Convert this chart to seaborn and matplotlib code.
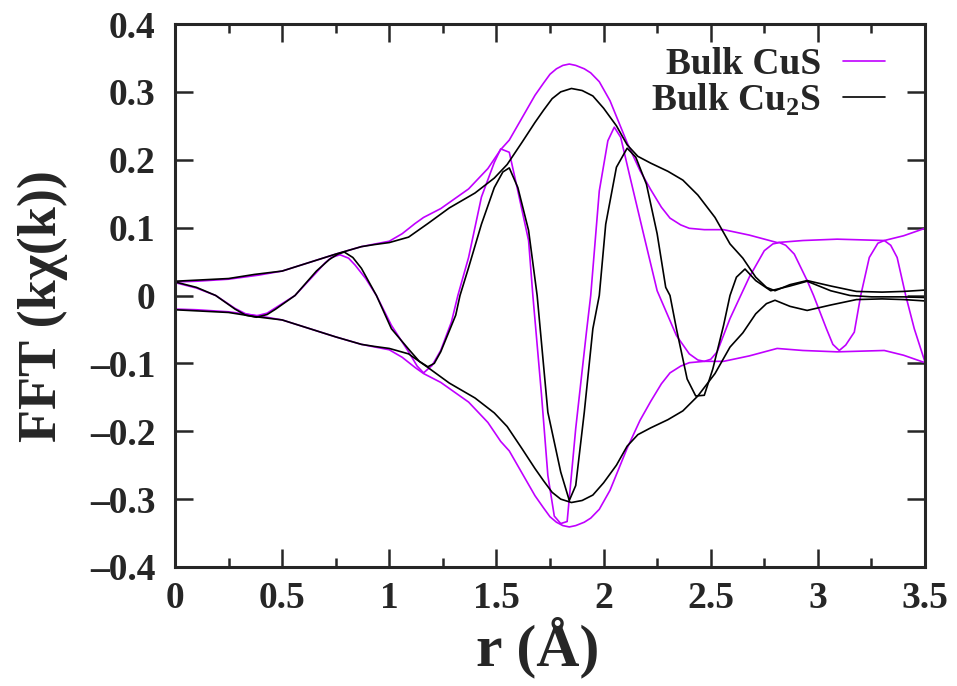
import matplotlib
matplotlib.use("Agg")
import matplotlib.pyplot as plt
import seaborn as sns
import pandas as pd
import numpy as np

# ---- data ----
cus_mag_r = [0, 0.1, 0.25, 0.39, 0.5, 0.62, 0.75, 0.87, 1.0, 1.06, 1.12, 1.16, 1.24, 1.37, 1.46, 1.52,
             1.56, 1.62, 1.68, 1.72, 1.75, 1.78, 1.81, 1.84, 1.87, 1.91, 1.94, 1.98, 2.03, 2.11, 2.17,
             2.22, 2.27, 2.31, 2.36, 2.40, 2.47, 2.56, 2.68, 2.81, 2.93, 3.09, 3.20, 3.31, 3.40, 3.50]
cus_mag = [0.020, 0.021, 0.024, 0.030, 0.036, 0.048, 0.061, 0.072, 0.080, 0.091, 0.106, 0.115, 0.128,
           0.157, 0.187, 0.215, 0.229, 0.262, 0.295, 0.313, 0.326, 0.334, 0.339, 0.341, 0.339, 0.334,
           0.328, 0.315, 0.287, 0.225, 0.184, 0.156, 0.130, 0.114, 0.104, 0.099, 0.097, 0.097, 0.089,
           0.078, 0.081, 0.083, 0.082, 0.081, 0.088, 0.099]

cu2s_mag_r = [0, 0.25, 0.37, 0.5, 0.62, 0.75, 0.87, 0.93, 1.0, 1.09, 1.18, 1.28, 1.40, 1.49, 1.55,
              1.62, 1.68, 1.72, 1.76, 1.80, 1.85, 1.90, 1.95, 2.00, 2.06, 2.11, 2.16, 2.22, 2.30, 2.37,
              2.44, 2.52, 2.59, 2.65, 2.71, 2.76, 2.80, 2.87, 2.95, 3.06, 3.18, 3.30, 3.40, 3.50]
cu2s_mag = [0.021, 0.025, 0.031, 0.036, 0.048, 0.061, 0.072, 0.075, 0.078, 0.086, 0.106, 0.129, 0.151,
            0.173, 0.193, 0.226, 0.255, 0.273, 0.290, 0.300, 0.305, 0.302, 0.294, 0.276, 0.250, 0.222,
            0.205, 0.195, 0.183, 0.170, 0.148, 0.115, 0.076, 0.055, 0.027, 0.012, 0.007, 0.016, 0.022,
            0.014, 0.006, 0.005, 0.006, 0.008]

cus_re_r = [0, 0.1, 0.19, 0.28, 0.33, 0.38, 0.43, 0.47, 0.56, 0.66, 0.70, 0.73, 0.77, 0.81, 0.84, 0.89,
            0.94, 1.01, 1.09, 1.13, 1.16, 1.20, 1.24, 1.29, 1.32, 1.37, 1.43, 1.49, 1.52, 1.56, 1.60,
            1.65, 1.67, 1.71, 1.74, 1.77, 1.80, 1.83, 1.87, 1.92, 1.94, 1.98, 2.02, 2.05, 2.08, 2.12,
            2.19, 2.25, 2.34, 2.40, 2.44, 2.47, 2.50, 2.53, 2.59, 2.64, 2.68, 2.75, 2.79, 2.82, 2.85,
            2.89, 2.95, 2.98, 3.04, 3.07, 3.10, 3.13, 3.17, 3.20, 3.24, 3.28, 3.31, 3.34, 3.37, 3.41,
            3.45, 3.50]
cus_re = [0.019, 0.011, 0.0, -0.019, -0.027, -0.030, -0.026, -0.018, 0.0, 0.034, 0.048, 0.056, 0.060,
          0.055, 0.045, 0.025, 0.0, -0.044, -0.083, -0.104, -0.114, -0.103, -0.081, -0.039, 0.0, 0.056,
          0.145, 0.196, 0.216, 0.211, 0.154, 0.081, 0.0, -0.145, -0.265, -0.325, -0.336, -0.333,
          -0.196, -0.054, 0.0, 0.154, 0.228, 0.248, 0.233, 0.179, 0.086, 0.007, -0.059, -0.086,
          -0.095, -0.097, -0.094, -0.083, -0.034, 0.0, 0.027, 0.066, 0.076, 0.078, 0.074, 0.061,
          0.022, 0.0, -0.049, -0.072, -0.081, -0.073, -0.054, 0.0, 0.056, 0.077, 0.081, 0.074, 0.056,
          0.0, -0.049, -0.098]

cu2s_re_r = [0, 0.1, 0.19, 0.28, 0.33, 0.38, 0.43, 0.47, 0.56, 0.66, 0.72, 0.76, 0.79, 0.83, 0.87,
             0.94, 1.01, 1.09, 1.14, 1.18, 1.21, 1.24, 1.31, 1.33, 1.37, 1.43, 1.49, 1.53, 1.56, 1.60,
             1.65, 1.69, 1.74, 1.80, 1.84, 1.87, 1.91, 1.95, 1.98, 2.01, 2.06, 2.11, 2.15, 2.20, 2.25,
             2.29, 2.31, 2.34, 2.39, 2.43, 2.47, 2.51, 2.56, 2.59, 2.62, 2.66, 2.71, 2.78, 2.87, 2.95,
             3.06, 3.15, 3.25, 3.40, 3.50]
cu2s_re = [0.020, 0.012, 0.0, -0.020, -0.029, -0.032, -0.028, -0.020, 0.0, 0.036, 0.053, 0.061, 0.064,
           0.056, 0.040, 0.0, -0.049, -0.079, -0.097, -0.105, -0.100, -0.083, -0.029, 0.0, 0.041,
           0.105, 0.159, 0.182, 0.188, 0.159, 0.096, 0.0, -0.172, -0.260, -0.302, -0.280, -0.172,
           -0.049, 0.0, 0.105, 0.189, 0.217, 0.204, 0.164, 0.091, 0.012, 0.0, -0.049, -0.123, -0.148,
           -0.147, -0.108, -0.044, 0.0, 0.027, 0.039, 0.022, 0.007, 0.014, 0.021, 0.007, 0.0, -0.002,
           -0.002, -0.003]

x_ticks = [0, 0.5, 1, 1.5, 2, 2.5, 3, 3.5]
x_tick_labels = ["0", "0.5", "1", "1.5", "2", "2.5", "3", "3.5"]
y_ticks = [-0.4, -0.3, -0.2, -0.1, 0, 0.1, 0.2, 0.3, 0.4]
y_tick_labels = ["\u20130.4", "\u20130.3", "\u20130.2", "\u20130.1", "0", "0.1", "0.2", "0.3", "0.4"]
series_names = ["Bulk CuS", "Bulk Cu$_2$S"]
colors = ["#c000ff", "#000000"]

# ---- style ----
sns.set_style("ticks")
plt.rcParams["font.family"] = ["Liberation Serif", "DejaVu Serif"]
plt.rcParams["font.weight"] = "bold"
plt.rcParams["mathtext.default"] = "regular"

fig = plt.figure(figsize=(9.57, 6.86), dpi=100)
ax = fig.add_axes([175 / 957, 1 - 567 / 686, 750 / 957, 543 / 686])

lw = 1.2
def draw(r, v, color, label=None):
    df = pd.DataFrame({"r": r, "v": v})
    sns.lineplot(data=df, x="r", y="v", color=color, lw=lw, ax=ax, label=label,
                 estimator=None, sort=False)

# CuS
draw(cus_mag_r, cus_mag, colors[0], series_names[0])
draw(cus_mag_r, [-m for m in cus_mag], colors[0])
draw(cus_re_r, cus_re, colors[0])
# Cu2S
draw(cu2s_mag_r, cu2s_mag, colors[1], series_names[1])
draw(cu2s_mag_r, [-m for m in cu2s_mag], colors[1])
draw(cu2s_re_r, cu2s_re, colors[1])

ax.set_xlim(0, 3.5)
ax.set_ylim(-0.4, 0.4)
ax.set_xticks(x_ticks)
ax.set_xticklabels(x_tick_labels)
ax.set_xticks(np.arange(0.25, 3.5, 0.5), minor=True)
ax.set_yticks(y_ticks)
ax.set_yticklabels(y_tick_labels)

for s in ax.spines.values():
    s.set_linewidth(2.2)
    s.set_visible(True)
ax.tick_params(axis="both", which="major", direction="in", length=13, width=1.8,
               top=True, right=True, labelsize=27)
ax.tick_params(axis="x", which="minor", direction="in", length=6.5, width=1.8, top=True, bottom=True)
ax.tick_params(axis="x", which="major", pad=10)
ax.tick_params(axis="y", which="major", pad=14)
for t in ax.get_xticklabels() + ax.get_yticklabels():
    t.set_fontweight("bold")

ax.set_xlabel("r (Å)", fontsize=43, fontweight="bold")
ax.xaxis.set_label_coords(0.483, -0.092)
ax.set_ylabel("FFT (kχ(k))", fontsize=39, fontweight="bold")
ax.yaxis.set_label_coords(-0.142, 0.48)

leg = ax.legend(loc="upper right", frameon=False, markerfirst=False, fontsize=27,
                handlelength=1.1, handletextpad=0.6, labelspacing=0.0,
                borderaxespad=0.0, bbox_to_anchor=(0.966, 0.985))
for t in leg.get_texts():
    t.set_fontweight("bold")

fig.savefig("out.png", dpi=100)
